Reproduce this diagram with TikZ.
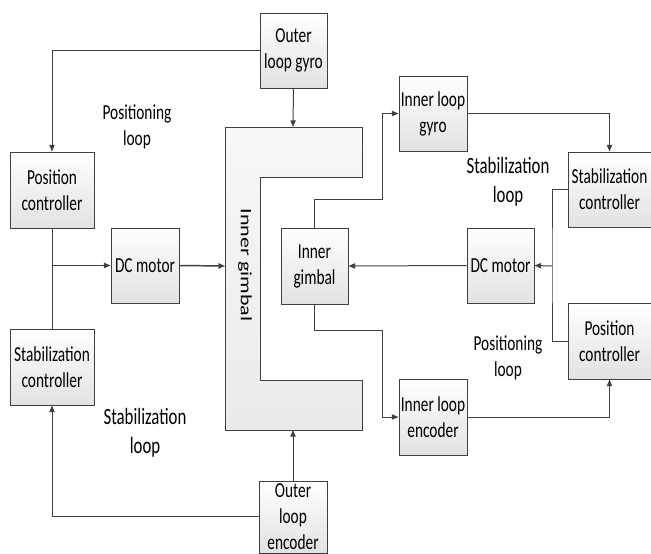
\documentclass[tikz,border=0pt]{standalone}
\usepackage{fontspec}
\setmainfont[FakeStretch=0.72]{Carlito}
\newfontfamily\gimbalfont{Carlito}
\usepackage{graphicx}
\usetikzlibrary{arrows.meta,calc,positioning,shadows}
\definecolor{gimballine}{RGB}{64,64,64}
\definecolor{gimbalshade}{RGB}{226,226,226}
\newcommand{\boxfont}{\fontsize{16}{19.5}\selectfont}
\newcommand{\bigloopfont}{\fontsize{17.5}{21.5}\selectfont}

\begin{document}
\begin{tikzpicture}[x=0.75pt,y=-0.75pt,>={Triangle[length=5pt,width=4pt]},
 line cap=butt,line join=miter,
 wire/.style={draw=gimballine,line width=0.75pt},
 blockbox/.style={draw=gimballine,line width=0.75pt,top color=white,bottom color=gimbalshade,
  drop shadow={shadow xshift=0.9pt,shadow yshift=-0.9pt,fill=black!30,opacity=0.6},
  align=center,inner sep=1pt,font=\boxfont},
 looplabel/.style={align=center,font=\boxfont,text=black},
 bigloop/.style={looplabel,font=\bigloopfont}]
 \useasboundingbox (0,0) rectangle (651,554);
 \clip (0,0) rectangle (651,554);
 % gimbal frame
 \coordinate (ctl) at (225,127);
 \coordinate (cbl) at (225,430);
 \shade[top color=white!97!black,bottom color=white!92!black,wire]
  (ctl) -- (362,127) -- (362,177) -- (260,177) -- (260,380) -- (362,380)
  -- (362,430) -- (cbl) -- cycle;
 \coordinate (ctop) at (293,127);
 \coordinate (cbot) at (293,430);
 \coordinate (cleft) at (225,266);
 \node[rotate=-90] (gimlabel) at (245,265)
  {\scalebox{1}[0.72]{\gimbalfont\fontsize{16.5}{20}\selectfont Inner gimbal}};
 % left blocks
 \node[blockbox,minimum width=50.25pt,minimum height=56.25pt] (ogyro) at (293.5,50.5) {Outer\\loop gyro};
 \node[blockbox,minimum width=63pt,minimum height=57pt] (posL) at (52,190) {Position\\controller};
 \node[blockbox,minimum width=51pt,minimum height=56.25pt] (dcL) at (145,265.5) {DC motor};
 \node[blockbox,minimum width=63pt,minimum height=57pt] (stabL) at (52,367) {Stabilization\\controller};
 \node[blockbox,minimum width=51pt,minimum height=54pt] (oenc) at (293,517) {Outer\\loop\\encoder};
 % right blocks
 \node[blockbox,minimum width=51pt,minimum height=56.25pt] (igyro) at (433,113.5) {Inner loop\\gyro};
 \node[blockbox,minimum width=62.25pt,minimum height=56.25pt] (stabR) at (609.5,189.5) {Stabilization\\controller};
 \node[blockbox,minimum width=50.25pt,minimum height=56.25pt] (dcR) at (500.5,265.5) {DC motor};
 \node[blockbox,minimum width=50.25pt,minimum height=57pt] (igim) at (314.5,266) {Inner\\gimbal};
 \node[blockbox,minimum width=62.25pt,minimum height=57pt] (posR) at (609.5,341) {Position\\controller};
 \node[blockbox,minimum width=51pt,minimum height=57pt] (ienc) at (433,417) {Inner loop\\encoder};
 % loop labels
 \node[looplabel] (lposL) at (137,127) {Positioning\\loop};
 \node[bigloop] (lstabL) at (145,433) {Stabilization\\loop};
 \node[bigloop] (lstabR) at (508,182) {Stabilization\\loop};
 \node[looplabel] (lposR) at (508,358) {Positioning\\loop};
 % outer loops
 \draw[wire,->] (ogyro.west) -| (posL.north);
 \draw[wire,->] (ogyro.south) -- (ctop);
 \draw[wire] (posL.south) -- (stabL.north);
 \draw[wire,->,line width=1.1pt] (posL.south |- dcL.west) -- (dcL.west);
 \draw[wire,->,line width=1.1pt] (dcL.east) -- (cleft);
 \draw[wire,->] (oenc.north) -- (cbot);
 \draw[wire,->] ([yshift=0.75pt]oenc.west) -| (stabL.south);
 % inner loops
 \coordinate (jg) at (382,199);
 \coordinate (je) at (382,330);
 \coordinate (jr) at (552,266);
 \draw[wire,->] (igim.north) |- (jg) |- (igyro.west);
 \draw[wire,->] (igyro.east) -| (stabR.north);
 \draw[wire] (stabR.west) -| (jr) |- (posR.west);
 \draw[wire,->] (jr) -- (dcR.east);
 \draw[wire,->] (dcR.west) -- (igim.east);
 \draw[wire,->] (igim.south) |- (je) |- (ienc.west);
 \draw[wire,->] (ienc.east) -| (posR.south);
\end{tikzpicture}
\end{document}
